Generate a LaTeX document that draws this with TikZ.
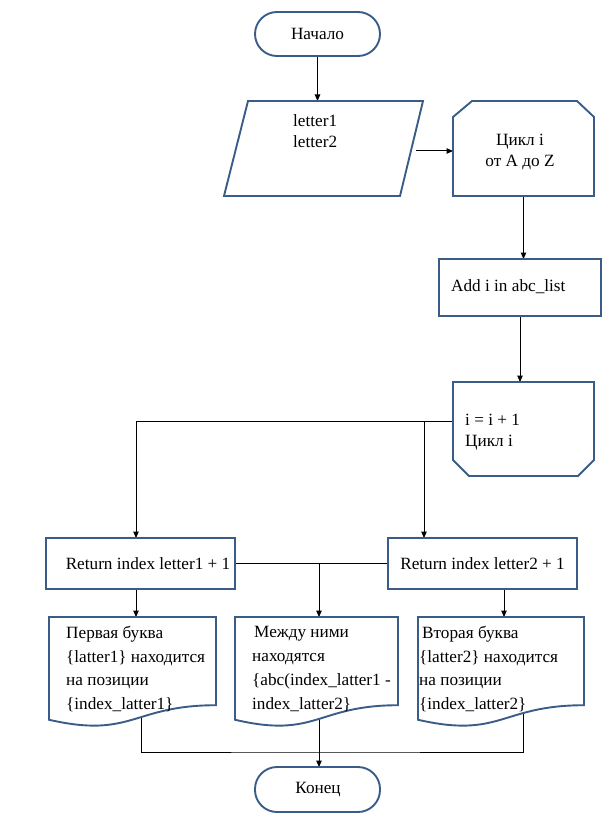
\documentclass[tikz,border=0pt]{standalone}
\usepackage{fontspec}
\setmainfont{Liberation Serif}
\usetikzlibrary{arrows.meta,calc}
\pgfdeclarelayer{bg}
\pgfdeclarelayer{conn}
\pgfdeclarelayer{shp}
\pgfsetlayers{bg,conn,shp,main}
\definecolor{bordercol}{RGB}{58,93,136}
\tikzset{
  frame/.style={draw=none,inner sep=0pt,outer sep=0pt},
  outline/.style={draw=bordercol,line width=1.9pt,fill=white,line join=miter},
  conn/.style={draw=black,line width=1pt},
  arr/.style={conn,-{Triangle[length=6.5pt,width=5.5pt]}},
  txt/.style={inner sep=0pt,font=\fontsize{17.2pt}{21pt}\selectfont},
  doctxt/.style={inner sep=0pt,align=left,font=\fontsize{17.2pt}{23.7pt}\selectfont}
}
\begin{document}
\begin{tikzpicture}[x=1pt,y=-1pt]
\begin{pgfonlayer}{bg}
\fill[white] (0,0) rectangle (608,829);
\end{pgfonlayer}
\useasboundingbox (0,0) rectangle (608,829);
% shape frames
\node[frame,minimum width=125pt,minimum height=44pt] (start) at (317.5,34) {};
\node[frame,minimum width=199pt,minimum height=95pt] (in) at (323.5,148.5) {};
\node[frame,minimum width=141pt,minimum height=95pt] (cyc) at (523.5,148.5) {};
\node[frame,minimum width=162pt,minimum height=57pt] (add) at (520,287.5) {};
\node[frame,minimum width=141pt,minimum height=94pt] (le) at (523.5,429) {};
\node[frame,minimum width=189pt,minimum height=51pt] (ret1) at (140.5,563.5) {};
\node[frame,minimum width=189pt,minimum height=51pt] (ret2) at (482.5,563.5) {};
\node[frame,minimum width=167pt,minimum height=110pt] (d1) at (132.5,672) {};
\node[frame,minimum width=163pt,minimum height=110pt] (d2) at (316.5,672) {};
\node[frame,minimum width=166pt,minimum height=110pt] (d3) at (501,672) {};
\node[frame,minimum width=125pt,minimum height=45pt] (end) at (317.5,789.5) {};
% outlines
\begin{pgfonlayer}{shp}
\draw[outline,rounded corners=22pt] (start.north west) rectangle (start.south east);
\draw[outline] ($(in.north west)+(24,0)$) -- (in.north east) -- ($(in.south east)+(-23,0)$) -- (in.south west) -- cycle;
\draw[outline] (cyc.south west) -- ($(cyc.north west)+(0,16)$) -- ($(cyc.north west)+(19,0)$) -- ($(cyc.north east)+(-17,0)$) -- ($(cyc.north east)+(0,16)$) -- (cyc.south east) -- cycle;
\draw[outline] (add.north west) rectangle (add.south east);
\draw[outline] (le.north west) -- (le.north east) -- ($(le.south east)+(0,-16)$) -- ($(le.south east)+(-16,0)$) -- ($(le.south west)+(16,0)$) -- ($(le.south west)+(0,-16)$) -- cycle;
\draw[outline] (ret1.north west) rectangle (ret1.south east);
\draw[outline] (ret2.north west) rectangle (ret2.south east);
\foreach \d in {d1,d2,d3}{
  \draw[outline] (\d.north west) -- (\d.north east) -- ($(\d.north east)!0.802!(\d.south east)$)
    .. controls ($(\d.north)!0.802!(\d.south)$) and ($(\d.north)!1.108!(\d.south)$) ..
    ($(\d.north west)!0.934!(\d.south west)$) -- cycle;
}
\draw[outline,rounded corners=22pt] (end.north west) rectangle (end.south east);
\end{pgfonlayer}
% connectors
\begin{pgfonlayer}{conn}
\coordinate (a1) at (416,151);
\coordinate (b1) at (453,421);
\coordinate (b2) at (424,421);
\coordinate (c2) at (319,563.5);
\coordinate (e1) at ([xshift=-4.5pt]ret1.south);
\coordinate (e3) at ([xshift=21.5pt]ret2.south);
\coordinate (f1) at (141,700);
\coordinate (f2) at (319,700);
\coordinate (f3) at (523,700);
\coordinate (g) at (319,752);
\draw[arr] (start.south) -- (start.south |- in.north);
\draw[arr] (a1) -- (a1 -| cyc.west);
\draw[arr] (cyc.south) -- (cyc.south |- add.north);
\draw[arr] (add.south) -- (add.south |- le.north);
\draw[arr] (b1) -| ([xshift=-4.5pt]ret1.north);
\draw[arr] (b2) -- (b2 |- ret2.north);
\draw[conn] (ret1.east) -- (ret2.west);
\draw[arr] (c2) -- (c2 |- d2.north);
\draw[arr] (e1) -- (e1 |- d1.north);
\draw[arr] (e3) -- (e3 |- d3.north);
\draw[conn] (f1) |- (g) -| (f3);
\draw[arr] (f2) -- (f2 |- end.north);
\end{pgfonlayer}
% texts
\node[txt] (t0) at (317.5,33.5) {Начало};
\node[txt,anchor=west,align=left] (t1) at (293,131) {letter1\\letter2};
\node[txt,align=center] (t2) at (520,152) {Цикл i\\от A до Z};
\node[txt,anchor=west] (t3) at (451,287) {Add i in abc\_list};
\node[txt,anchor=west,align=left] (t4) at (465,432.5) {i = i + 1\\Цикл i};
\node[txt] (t5) at (148,564) {Return index letter1 + 1};
\node[txt] (t6) at (482.5,564) {Return index letter2 + 1};
\node[doctxt,anchor=west] (t7) at (66,669) {Первая буква\\\{latter1\} находится\\на позиции\\\{index\_latter1\}};
\node[doctxt,anchor=west] (t8) at (252,669) {\hspace{2pt}Между ними\\находятся\\\{abc(index\_latter1 -\\index\_latter2\}};
\node[doctxt,anchor=west] (t9) at (419,669) {\hspace{3pt}Вторая буква\\\{latter2\} находится\\на позиции\\\{index\_latter2\}};
\node[txt] (t10) at (318,789.5) {Конец};
\end{tikzpicture}
\end{document}
